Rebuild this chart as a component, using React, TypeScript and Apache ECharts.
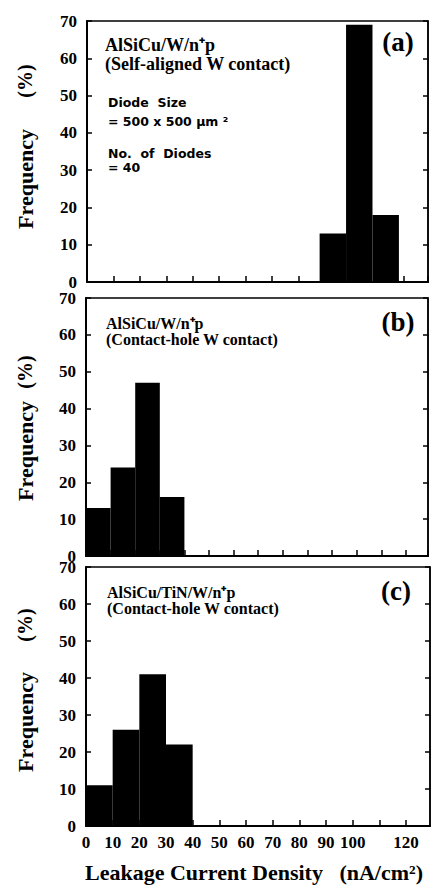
import React, { useEffect, useRef } from "react";
import * as echarts from "echarts";

// ---- data ----
const binWidth = 10;
const binStartA = [88, 98, 108];
const freqA = [13, 69, 18];
const binStartB = [0, 10, 20, 30];
const freqB = [13, 24, 47, 16];
const binStartC = [0, 10, 20, 30];
const freqC = [11, 26, 41, 22];
const xTickLabels = ["0", "10", "20", "30", "40", "50", "60", "70", "80", "90", "100", "", "120"];
const yTickLabels = ["0", "10", "20", "30", "40", "50", "60", "70"];
const panelLabels = ["(a)", "(b)", "(c)"];

const SERIF = "'Liberation Serif', 'Times New Roman', serif";
const SANS = "'DejaVu Sans', sans-serif";

const grids = [
  { left: 87, top: 21, width: 341, height: 261, xMax: 129 },
  { left: 86, top: 298, width: 342, height: 258, xMax: 139 },
  { left: 86, top: 567, width: 344, height: 259, xMax: 129 },
];

function toBins(starts: number[], freqs: number[]) {
  return starts.map((s, i) => [s, s + binWidth, freqs[i]]);
}

export default function App() {
  const ref = useRef<HTMLDivElement>(null);
  useEffect(() => {
    if (!ref.current) return;
    const chart = echarts.init(ref.current, null, { renderer: "svg" });
    const binsets = [toBins(binStartA, freqA), toBins(binStartB, freqB), toBins(binStartC, freqC)];

    const xLabelFmt = (v: number) => {
      const i = Math.round(v / 10);
      if (Math.abs(v - i * 10) > 0.01) return "";
      return xTickLabels[i] ?? "";
    };
    const yLabelFmt = (v: number) => {
      const i = Math.round(v / 10);
      return yTickLabels[i] ?? "";
    };

    const option: any = {
      animation: false,
      backgroundColor: "#fff",
      grid: grids.map((g) => ({
        left: g.left,
        top: g.top,
        width: g.width,
        height: g.height,
        show: true,
        borderColor: "#000",
        borderWidth: 1.5,
        backgroundColor: "transparent",
      })),
      xAxis: grids.map((g, i) => ({
        type: "value",
        gridIndex: i,
        min: 0,
        max: g.xMax,
        interval: 10,
        axisLine: { show: true, onZero: false, lineStyle: { color: "#000", width: 2 } },
        axisTick: { show: true, inside: true, length: 6, lineStyle: { color: "#000", width: 1.5 } },
        splitLine: { show: false },
        axisLabel: {
          show: i === 2,
          formatter: xLabelFmt,
          color: "#000",
          fontFamily: SERIF,
          fontWeight: "bold",
          fontSize: 17,
          margin: 8,
          showMaxLabel: false,
        },
      })),
      yAxis: [
        ...grids.map((g, i) => ({
          type: "value",
          gridIndex: i,
          position: "left",
          min: 0,
          max: 70,
          interval: 10,
          axisLine: { show: true, lineStyle: { color: "#000", width: 2 } },
          axisTick: { show: true, inside: true, length: 5, lineStyle: { color: "#000", width: 1.5 } },
          splitLine: { show: false },
          axisLabel: {
            formatter: yLabelFmt,
            color: "#000",
            fontFamily: SERIF,
            fontWeight: "bold",
            fontSize: 17,
            margin: 10,
          },
        })),
        ...grids.map((g, i) => ({
          type: "value",
          gridIndex: i,
          position: "right",
          min: 0,
          max: 70,
          interval: 10,
          axisLine: { show: true, lineStyle: { color: "#000", width: 1.5 } },
          axisTick: { show: true, inside: true, length: 5, lineStyle: { color: "#000", width: 1.5 } },
          splitLine: { show: false },
          axisLabel: { show: false },
        })),
      ],
      series: binsets.map((data, i) => ({
        type: "custom",
        xAxisIndex: i,
        yAxisIndex: i,
        data,
        encode: { x: [0, 1], y: 2 },
        renderItem: (params: any, api: any) => {
          const p0 = api.coord([api.value(0), 0]);
          const p1 = api.coord([api.value(1), api.value(2)]);
          return {
            type: "rect",
            shape: { x: p0[0], y: p1[1], width: p1[0] - p0[0], height: p0[1] - p1[1] },
            style: { fill: "#000" },
          };
        },
      })),
      graphic: [
        // y-axis names
        ...[
          { f: 179, p: 81 },
          { f: 451, p: 372 },
          { f: 722, p: 625 },
        ].flatMap((c) => [
          {
            type: "text",
            x: 25,
            y: c.f,
            rotation: Math.PI / 2,
            style: {
              text: "Frequency",
              font: `bold 22px ${SERIF}`,
              fill: "#000",
              align: "center",
              verticalAlign: "middle",
            },
          },
          {
            type: "text",
            x: 25,
            y: c.p,
            rotation: Math.PI / 2,
            style: {
              text: "(%)",
              font: `bold 20px ${SERIF}`,
              fill: "#000",
              align: "center",
              verticalAlign: "middle",
            },
          },
        ]),
        // panel labels
        ...[
          { x: 398, y: 42 },
          { x: 398, y: 322 },
          { x: 396, y: 591 },
        ].map((p, i) => ({
          type: "text",
          x: p.x,
          y: p.y,
          style: {
            text: panelLabels[i],
            font: `bold 27px ${SERIF}`,
            fill: "#000",
            align: "center",
            verticalAlign: "middle",
          },
        })),
        // titles (two lines in one text)
        ...[
          { x: 105, y: 54.5, text: "AlSiCu/W/n⁺p\n(Self-aligned W contact)", fs: 18, lh: 19 },
          { x: 106, y: 331, text: "AlSiCu/W/n⁺p\n(Contact-hole W contact)", fs: 16, lh: 16 },
          { x: 107, y: 600, text: "AlSiCu/TiN/W/n⁺p\n(Contact-hole W contact)", fs: 16, lh: 16 },
        ].map((t) => ({
          type: "text",
          x: t.x,
          y: t.y,
          style: {
            text: t.text,
            font: `bold ${t.fs}px ${SERIF}`,
            fill: "#000",
            lineHeight: t.lh,
            align: "left",
            verticalAlign: "middle",
          },
        })),
        // diode info
        ...[
          { y: 102, text: "Diode  Size" },
          { y: 121, text: "= 500 x 500 μm ²" },
          { y: 153, text: "No.  of  Diodes" },
          { y: 167, text: "= 40" },
        ].map((d) => ({
          type: "text",
          x: 108,
          y: d.y,
          style: {
            text: d.text,
            font: `bold 12.5px ${SANS}`,
            fill: "#000",
            align: "left",
            verticalAlign: "middle",
          },
        })),
        // x-axis name
        {
          type: "text",
          x: 85,
          y: 872,
          style: {
            text: "Leakage Current Density   (nA/cm²)",
            font: `bold 22px ${SERIF}`,
            fill: "#000",
            align: "left",
            verticalAlign: "middle",
          },
        },
      ],
    };
    chart.setOption(option);
    return () => chart.dispose();
  }, []);
  return (
    <div
      ref={ref}
      style={{ position: "fixed", left: 0, top: 0, width: 438, height: 888, background: "#fff" }}
    />
  );
}
